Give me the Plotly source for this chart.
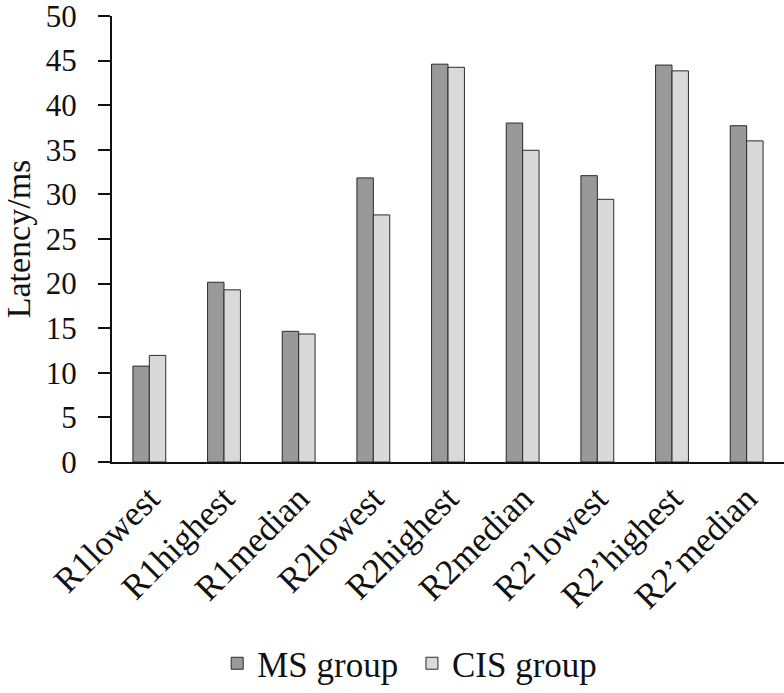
import plotly.graph_objects as go

categories = ["R1lowest", "R1highest", "R1median", "R2lowest", "R2highest",
              "R2median", "R2\u2019lowest", "R2\u2019highest", "R2\u2019median"]
ms_group = [10.75, 20.15, 14.65, 31.85, 44.6, 38.0, 32.1, 44.5, 37.7]
cis_group = [11.95, 19.3, 14.35, 27.7, 44.25, 34.95, 29.45, 43.85, 36.0]
y_ticks = [0, 5, 10, 15, 20, 25, 30, 35, 40, 45, 50]
series_names = ["MS group\u00a0", "CIS group"]

FONT = "Liberation Serif"

fig = go.Figure()
fig.add_trace(go.Bar(x=categories, y=ms_group, name=series_names[0],
                     marker=dict(color="#999999", line=dict(color="#2b2b2b", width=1))))
fig.add_trace(go.Bar(x=categories, y=cis_group, name=series_names[1],
                     marker=dict(color="#d9d9d9", line=dict(color="#2b2b2b", width=1))))

fig.update_layout(
    width=784, height=693,
    margin=dict(l=112, r=0, t=16, b=225),
    paper_bgcolor="white", plot_bgcolor="white",
    barmode="group", bargap=0.56, bargroupgap=0,
    font=dict(family=FONT, color="#111111"),
    showlegend=True,
    legend=dict(orientation="h", x=0.443, xanchor="center", y=-0.452, yanchor="middle",
                font=dict(family=FONT, size=35), itemwidth=30,
                traceorder="normal", bgcolor="rgba(0,0,0,0)"),
)
fig.update_xaxes(
    automargin=False,
    showline=True, linecolor="#111111", linewidth=2,
    ticks="", tickangle=-45, tickfont=dict(family=FONT, size=35),
    showgrid=False, zeroline=False,
)
fig.update_yaxes(
    automargin=False,
    range=[0, 50], tickvals=y_ticks,
    showline=True, linecolor="#111111", linewidth=2,
    ticks="outside", ticklen=12, tickwidth=2, tickcolor="#111111",
    tickfont=dict(family=FONT, size=31), ticklabelstandoff=15,
    ticklabeloverflow="allow",
    showgrid=False, zeroline=False,
    title=dict(text="Latency/ms", font=dict(family=FONT, size=34), standoff=7),
)

fig.write_html("out.html", config={"displayModeBar": False},
               post_script="document.body.style.margin='0';")
